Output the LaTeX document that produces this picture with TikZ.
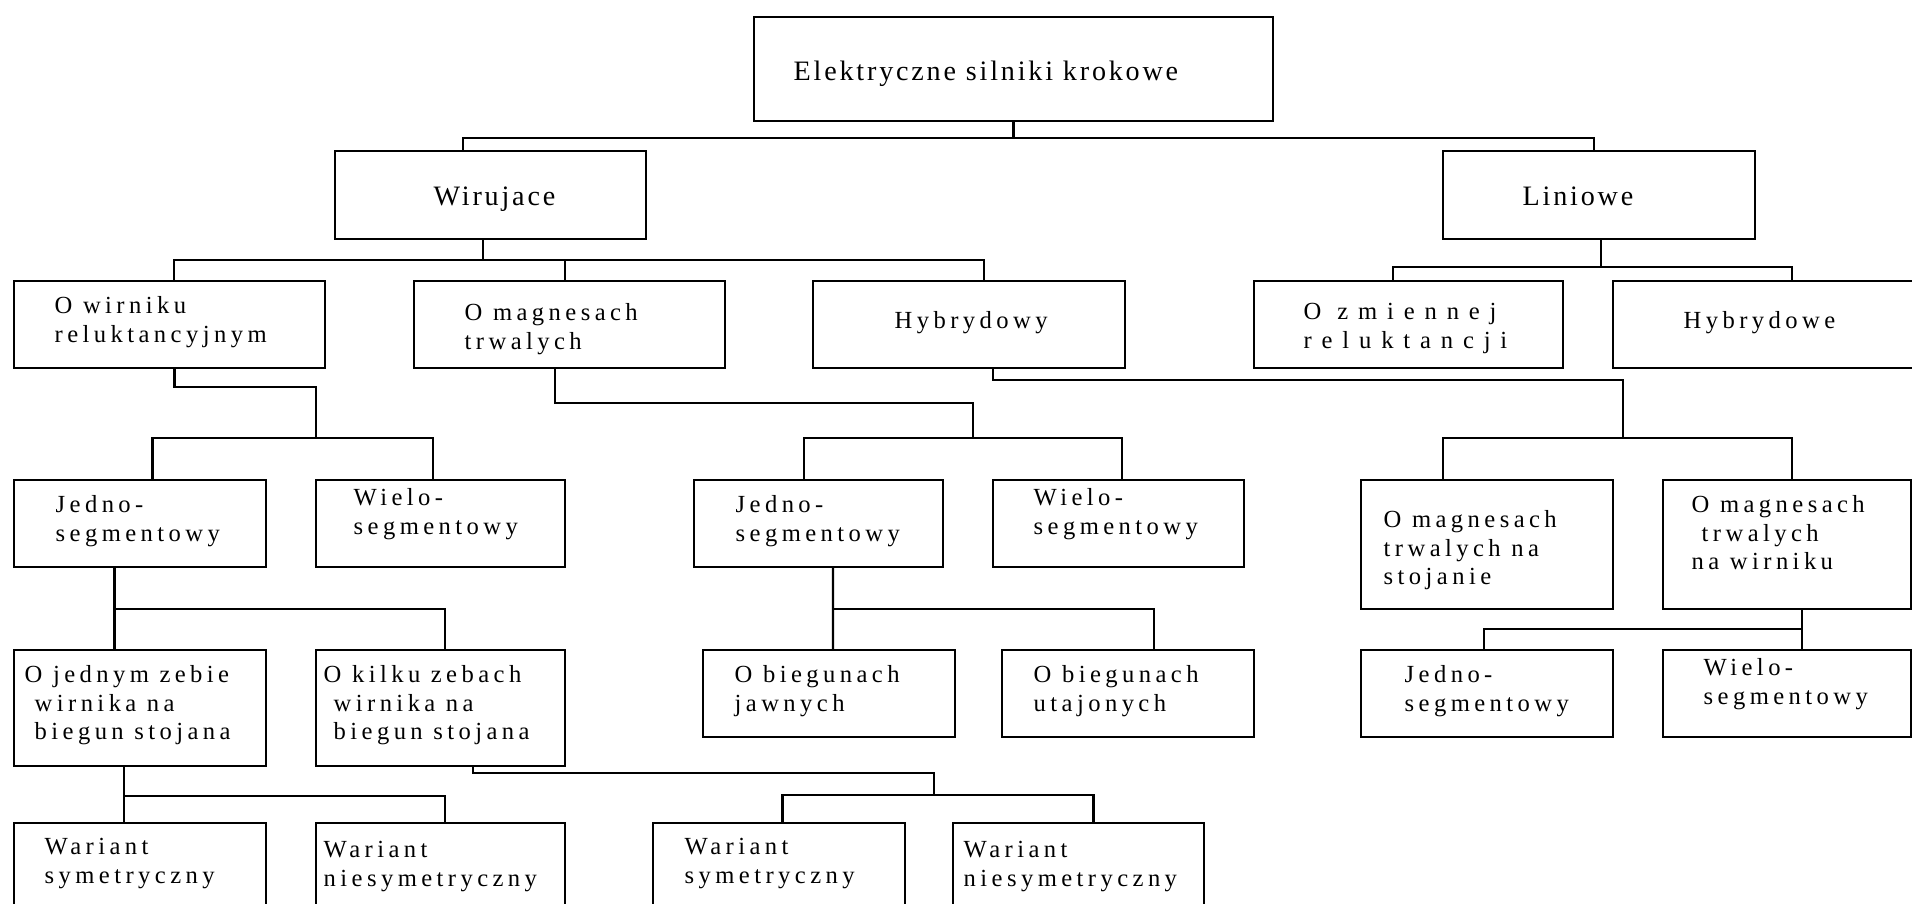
\documentclass[tikz,border=0pt]{standalone}
\usepackage{fontspec}
\setmainfont{Liberation Serif}
\newfontfamily\boxfont[LetterSpace=18]{Liberation Serif}
\newfontfamily\headfont[LetterSpace=10]{Liberation Serif}
\newfontfamily\widefont[LetterSpace=40]{Liberation Serif}
\usepackage{tikz}
\usetikzlibrary{positioning,fit,calc}

\tikzset{
  box/.style={draw, line width=0.7pt, inner sep=0pt},
  txt/.style={anchor=north west, inner sep=0pt, align=left, font=\boxfont\fontsize{7}{8.1}\selectfont},
  headtxt/.style={txt, font=\headfont\fontsize{8}{9.5}\selectfont},
  widetxt/.style={txt, font=\widefont\fontsize{7}{8.1}\selectfont},
  link/.style={line width=0.65pt},
}

\begin{document}
\begin{tikzpicture}[x=0.1mm, y=-0.1mm]
    \useasboundingbox (0,0) rectangle (1912,904);
    \clip (0,0) rectangle (1912,904);

    % Boxes
    \node (top) [box, fit={(754,17) (1273,121)}] {};

    \node (wir) [box, fit={(335,151) (646,239)}] {};
    \node (lin) [box, fit={(1443,151) (1755,239)}] {};

    \node (owr) [box, fit={(14,281) (325,368)}] {};
    \node (omt) [box, fit={(414,281) (725,368)}] {};
    \node (hyb) [box, fit={(813,281) (1125,368)}] {};
    \node (ozr) [box, fit={(1254,281) (1563,368)}] {};
    \node (hyb2) [box, fit={(1613,281) (1920,368)}] {};

    \node (j1) [box, fit={(14,480) (266,567)}] {};
    \node (w1) [box, fit={(316,480) (565,567)}] {};
    \node (j2) [box, fit={(694,480) (943,567)}] {};
    \node (w2) [box, fit={(993,480) (1244,567)}] {};
    \node (mts) [box, fit={(1361,480) (1613,609)}] {};
    \node (mtw) [box, fit={(1663,480) (1911,609)}] {};

    \node (oj) [box, fit={(14,650) (266,766)}] {};
    \node (ok) [box, fit={(316,650) (565,766)}] {};
    \node (bj) [box, fit={(703,650) (955,737)}] {};
    \node (bu) [box, fit={(1002,650) (1254,737)}] {};
    \node (j3) [box, fit={(1361,650) (1613,737)}] {};
    \node (w3) [box, fit={(1663,650) (1911,737)}] {};

    \node (ws1) [box, fit={(14,823) (266,915)}] {};
    \node (wn1) [box, fit={(316,823) (565,915)}] {};
    \node (ws2) [box, fit={(653,823) (905,915)}] {};
    \node (wn2) [box, fit={(953,823) (1204,915)}] {};

    % Labels
    \node (topT) at (793,60) [headtxt] {Elektryczne silniki krokowe};
    \node (wirT) at (433,186) [headtxt] {Wirujace};
    \node (linT) at (1522,186) [headtxt] {Liniowe};

    \node (owrT) at (54,296) [txt] {O wirniku\\reluktancyjnym};
    \node (omtT) at (464,303) [txt] {O magnesach\\trwalych};
    \node (hybT) at (894,311) [txt] {Hybrydowy};
    \node (ozrT) at (1303,303) [widetxt] {O zmiennej\\reluktancji};
    \node (hyb2T) at (1683,311) [txt] {Hybrydowe};

    \node (j1T) at (55,495) [txt] {Jedno-\\segmentowy};
    \node (w1T) at (353,488) [txt] {Wielo-\\segmentowy};
    \node (j2T) at (735,495) [txt] {Jedno-\\segmentowy};
    \node (w2T) at (1033,488) [txt] {Wielo-\\segmentowy};
    \node (mtsT) at (1383,510) [txt] {O magnesach\\trwalych na\\stojanie};
    \node (mtwT) at (1691,495) [txt] {O magnesach\\\hspace*{1mm}trwalych\\na wirniku};

    \node (ojT) at (24,665) [txt] {O jednym zebie\\\hspace*{1mm}wirnika na\\\hspace*{1mm}biegun stojana};
    \node (okT) at (323,665) [txt] {O kilku zebach\\\hspace*{1mm}wirnika na\\\hspace*{1mm}biegun stojana};
    \node (bjT) at (734,665) [txt] {O biegunach\\jawnych};
    \node (buT) at (1033,665) [txt] {O biegunach\\utajonych};
    \node (j3T) at (1404,665) [txt] {Jedno-\\segmentowy};
    \node (w3T) at (1703,658) [txt] {Wielo-\\segmentowy};

    \node (ws1T) at (44,838) [txt] {Wariant\\symetryczny};
    \node (wn1T) at (323,841) [txt] {Wariant\\niesymetryczny};
    \node (ws2T) at (684,838) [txt] {Wariant\\symetryczny};
    \node (wn2T) at (963,841) [txt] {Wariant\\niesymetryczny};

    % Connectors
    \draw[link] (top.south) -- ++(0,16) coordinate (topbar) -| ([xshift=-2.75mm]wir.north);
    \draw[link] (topbar) -| ([xshift=-0.5mm]lin.north);

    \draw[link] ([xshift=-0.75mm]wir.south) -- ++(0,20) coordinate (wirbar) -| ([xshift=0.45mm]owr.north);
    \draw[link] (wirbar) -| ([xshift=-0.45mm]omt.north);
    \draw[link] (wirbar) -| ([xshift=1.5mm]hyb.north);

    \draw[link] ([xshift=0.2mm]lin.south) -- ++(0,27) coordinate (linbar) -| ([xshift=-1.55mm]ozr.north);
    \draw[link] (linbar) -| ([xshift=2.55mm]hyb2.north);

    \draw[link] ([xshift=0.5mm]owr.south) -- ++(0,18) -- ++(141.5,0) -- ++(0,51) coordinate (owrbar);
    \draw[link] ([xshift=1.25mm]j1.north) |- (owrbar) -| ([xshift=-0.75mm]w1.north);

    \draw[link] ([xshift=-1.45mm]omt.south) -- ++(0,34) -- ++(418,0) -- ++(0,35) coordinate (omtbar);
    \draw[link] ([xshift=-1.45mm]j2.north) |- (omtbar) -| ([xshift=0.35mm]w2.north);

    \draw[link] ([xshift=2.4mm]hyb.south) -- ++(0,11) -- ++(630,0) -- ++(0,58) coordinate (hybbar);
    \draw[link] ([xshift=-4.4mm]mts.north) |- (hybbar) -| ([xshift=0.5mm]mtw.north);

    \draw[link] ([xshift=-2.55mm]j1.south) -- ([xshift=-2.55mm]oj.north);
    \draw[link] ([xshift=-2.55mm]j1.south) ++(0,41) -| ([xshift=0.45mm]ok.north);

    \draw[link] ([xshift=1.45mm]j2.south) -- ([xshift=0.4mm]bj.north);
    \draw[link] ([xshift=1.45mm]j2.south) ++(0,41) -| ([xshift=2.6mm]bu.north);

    \draw[link] ([xshift=1.5mm]mtw.south) -- ([xshift=1.5mm]w3.north);
    \draw[link] ([xshift=1.5mm]mtw.south) ++(0,19) -| ([xshift=-0.3mm]j3.north);

    \draw[link] ([xshift=-1.6mm]oj.south) -- ([xshift=-1.6mm]ws1.north);
    \draw[link] ([xshift=-1.6mm]oj.south) ++(0,29) -| ([xshift=0.45mm]wn1.north);

    \draw[link] ([xshift=3.25mm]ok.south) -- ++(0,6) -- ++(461,0) -- ++(0,22) coordinate (okbar);
    \draw[link] ([xshift=0.35mm]ws2.north) |- (okbar) -| ([xshift=1.5mm]wn2.north);
\end{tikzpicture}
\end{document}
